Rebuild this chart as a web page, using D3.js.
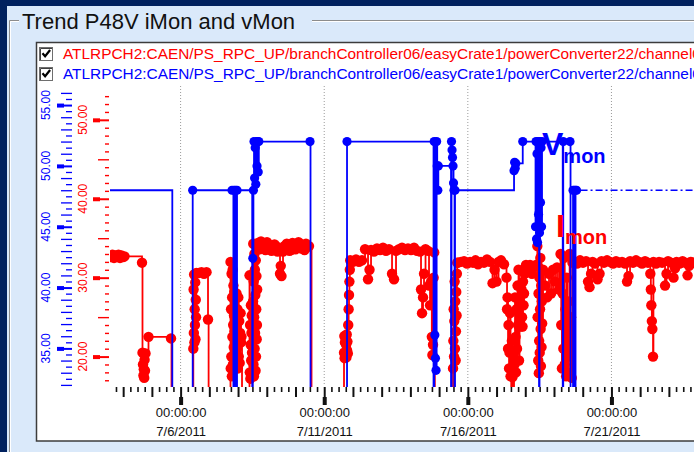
<!DOCTYPE html>
<html>
<head>
<meta charset="utf-8">
<script src="https://cdn.jsdelivr.net/npm/d3@7"></script>
<style>
  html, body { margin: 0; padding: 0; background: #00215e; overflow: hidden; }
  svg { display: block; font-family: "Liberation Sans", Arial, sans-serif; }
</style>
</head>
<body>
<svg id="chart" width="694" height="452"></svg>
<script>
// ---- data ---------------------------------------------------------------
const panelTitle = "Trend P48V iMon and vMon";
const seriesNames = [
  "ATLRPCH2:CAEN/PS_RPC_UP/branchController06/easyCrate1/powerConverter22/channel0",
  "ATLRPCH2:CAEN/PS_RPC_UP/branchController06/easyCrate1/powerConverter22/channel0"
];
const seriesLabels = ["I", "V"];      // big in-plot labels, with "mon" subscript
const vmonTicks = [35, 40, 45, 50, 55];
const imonTicks = [20, 30, 40, 50];
const majorDates = ["2011-07-06", "2011-07-11", "2011-07-16", "2011-07-21"];
const timeSpan = ["2011-07-03 13:00", "2011-07-24 02:00"];

// samples: [day of July 2011 (fractional), value]
const imonSamples = [
  [3.577,32.6],[3.629,32.9],[3.681,32.5],[3.733,32.8],[3.785,32.6],[3.838,32.9],[3.890,32.5],[3.942,32.8],[3.994,32.6],[4.047,32.7],
  [4.656,31.9],[4.673,20.5],[4.691,19.0],[4.705,17.6],[4.719,18.4],[4.733,17.3],[4.746,19.6],[4.760,18.2],[4.778,20.4],[4.882,22.5],
  [5.666,22.3],[5.683,0],
  [6.442,21.0],[6.452,28.5],[6.461,23.0],[6.471,30.4],[6.480,21.8],[6.490,26.0],[6.499,24.0],[6.509,29.4],[6.518,22.2],[6.528,27.2],[6.537,25.0],[6.547,30.6],
  [6.641,30.6],[6.728,30.7],[6.815,30.5],[6.902,30.7],[6.954,24.7],[6.975,0],
  [7.737,32.0],[7.746,18.5],[7.756,26.0],[7.765,20.0],[7.774,30.5],[7.784,17.5],[7.793,27.5],[7.802,22.5],[7.812,31.0],[7.821,19.0],[7.830,24.0],[7.839,29.0],[7.849,21.2],[7.858,25.2],[7.867,28.2],[7.877,23.2],
  [7.946,28.0],[7.962,21.0],[7.978,26.0],[7.993,18.5],[8.009,27.5],[8.025,20.0],[8.041,24.5],[8.057,19.2],[8.072,23.0],[8.088,25.5],[8.104,21.8],[8.120,22.5],[8.138,0],
  [8.399,30.3],[8.409,18.0],[8.418,24.0],[8.428,17.2],[8.438,21.5],[8.448,26.5],[8.457,19.5],[8.467,23.0],[8.477,25.2],[8.486,20.5],
  [8.521,27.0],[8.529,34.3],[8.537,19.0],[8.545,29.5],[8.553,17.5],[8.561,25.0],[8.569,33.0],[8.577,21.0],[8.585,31.0],[8.593,23.0],[8.601,27.8],[8.609,18.2],[8.617,32.2],[8.625,20.0],[8.633,26.0],[8.641,30.2],[8.649,22.2],[8.657,24.0],[8.665,28.5],[8.673,33.8],
  [8.695,34.4],[8.747,33.6],[8.799,34.6],[8.851,33.8],[8.904,34.2],[8.956,33.5],[9.008,34.5],[9.060,33.7],[9.113,34.1],[9.165,33.4],[9.217,33.6],[9.270,34.2],[9.322,34.0],[9.374,33.3],[9.409,33.4],[9.461,30.5],[9.487,31.5],[9.513,30.2],[9.565,33.3],[9.609,34.0],[9.652,33.6],[9.696,34.3],[9.739,33.9],[9.791,33.4],[9.844,33.5],[9.896,34.4],[9.948,34.2],[10.000,33.6],[10.053,33.8],[10.105,34.5],[10.157,34.3],[10.210,33.7],[10.262,34.1],[10.314,33.5],[10.366,34.3],[10.418,33.9],[10.471,34.0],[10.558,0],
  [11.689,20.5],[11.700,22.6],[11.710,19.8],[11.721,21.8],[11.731,20.2],[11.742,22.4],[11.752,20.6],[11.763,21.5],[11.773,19.9],[11.784,22.8],[11.794,20.8],[11.808,21.9],[11.822,20.4],[11.836,24.0],[11.850,26.0],[11.863,27.8],[11.877,29.5],[11.891,31.0],[11.905,32.2],
  [12.003,32.0],[12.107,32.3],[12.212,32.0],[12.316,32.2],[12.421,33.6],[12.525,29.8],[12.577,31.0],[12.630,33.5],[12.734,33.3],[12.838,33.7],[12.943,33.5],[13.047,33.8],[13.152,33.4],[13.256,33.6],[13.361,30.5],[13.430,29.8],[13.500,33.4],[13.604,33.6],[13.709,33.8],[13.813,33.5],[13.918,33.7],[14.022,33.5],[14.127,33.8],[14.231,33.4],[14.336,33.3],[14.370,28.5],[14.405,25.5],[14.440,27.5],[14.475,30.5],[14.527,33.6],[14.614,33.4],[14.649,29.0],[14.684,26.5],[14.719,29.5],[14.746,22.5],[14.767,20.2],[14.788,21.5],[14.809,30.0],[14.830,33.2],[14.851,0],
  [15.485,18.5],[15.496,22.0],[15.507,26.0],[15.519,20.0],[15.530,24.5],[15.541,29.5],[15.552,21.0],[15.563,27.0],[15.575,19.5],[15.586,23.2],[15.597,28.2],[15.608,25.2],[15.619,30.5],[15.631,31.9],
  [15.659,31.9],[15.763,32.0],[15.868,32.1],[15.972,31.8],[16.077,32.0],[16.181,31.9],[16.268,32.2],[16.355,31.7],[16.460,32.0],[16.564,31.9],[16.668,32.3],[16.773,32.0],[16.860,29.3],[16.930,31.0],[16.999,29.5],[17.069,32.0],[17.156,32.2],[17.260,31.7],
  [17.347,30.0],[17.365,26.0],[17.382,27.5],[17.400,21.0],[17.417,24.0],[17.435,18.5],[17.452,20.5],[17.470,25.5],[17.487,17.5],[17.511,0],[17.533,22.0],[17.556,17.4],[17.591,0],[17.608,20.5],[17.626,19.0],[17.643,27.5],[17.661,22.5],[17.678,18.0],[17.696,26.0],[17.713,21.0],[17.730,29.0],[17.748,24.0],[17.765,31.0],[17.783,19.5],[17.800,27.0],[17.818,24.5],[17.835,26.5],[17.853,23.8],[17.870,28.5],[17.888,25.0],[17.905,23.8],[17.922,29.5],[17.939,26.5],[17.957,28.0],[17.974,30.5],
  [18.026,31.6],[18.096,30.8],[18.166,31.6],[18.235,30.5],[18.305,31.3],[18.375,31.6],
  [18.420,34.0],[18.430,25.0],[18.441,31.5],[18.451,19.5],[18.462,28.0],[18.472,17.9],[18.483,22.0],[18.493,30.0],[18.503,20.5],[18.514,26.0],[18.524,32.5],[18.535,23.5],[18.545,18.8],[18.556,29.0],[18.566,21.2],[18.577,27.0],[18.587,24.2],
  [18.618,31.0],[18.688,29.0],[18.758,27.5],[18.827,30.5],[18.897,28.0],[18.967,31.0],[19.036,29.5],[19.106,31.3],[19.175,28.5],
  [19.228,33.0],[19.252,24.0],[19.276,18.5],[19.301,28.0],[19.325,21.0],[19.350,32.5],[19.374,19.0],[19.398,26.0],[19.423,17.5],[19.447,30.0],[19.471,22.0],[19.496,18.0],[19.520,27.0],[19.545,33.0],[19.569,20.0],[19.593,25.0],[19.618,17.3],[19.642,31.9],
  [19.698,32.0],[19.802,31.8],[19.907,32.2],[20.011,31.9],[20.116,32.1],[20.185,29.5],[20.237,28.8],[20.290,30.5],[20.342,32.0],[20.429,31.8],[20.516,29.8],[20.586,30.5],[20.655,32.1],[20.742,31.9],[20.847,32.2],[20.951,32.0],[21.056,31.8],[21.160,32.1],[21.265,31.9],[21.369,32.0],[21.474,31.8],[21.543,29.5],[21.595,30.2],[21.648,32.1],[21.752,31.9],[21.856,32.2],[21.961,32.0],[22.065,31.8],[22.170,32.1],[22.274,31.9],[22.354,30.5],[22.372,28.5],[22.389,26.5],[22.407,24.5],[22.424,23.5],[22.448,20.0],[22.462,32.0],[22.553,31.8],[22.657,32.0],[22.762,31.9],[22.866,29.0],[22.918,30.5],[22.971,32.1],[23.075,31.9],[23.162,30.0],[23.214,31.2],[23.267,32.0],[23.371,31.8],[23.476,32.1],[23.563,31.9],[23.650,30.3],[23.702,31.5],[23.754,32.0],[23.841,31.9],[23.981,32.0]
];

const vmonSamples = [
  [3.194,48],[5.711,0],[6.421,48],[7.790,48],[7.838,0],[7.859,48],[7.887,0],[7.911,48],[7.939,0],[7.964,48],
  [8.493,0],[8.514,42.4],[8.535,48],[8.556,52],[8.577,49],[8.597,51.5],[8.618,48.5],[8.639,52],[8.660,50],[8.681,52],[8.702,49.5],[8.723,52],
  [10.506,52],[10.523,0],[11.794,52],[14.806,0],[14.830,52],[14.851,36.1],[14.872,34.2],[14.893,33.2],[14.914,52],[14.934,50],[14.955,48],[14.973,50],
  [15.415,0],[15.432,52],[15.450,51.3],[15.467,50.7],[15.485,50],[15.502,48.6],[15.519,48],[15.537,0],[15.554,48],
  [17.609,49.6],[17.629,50.3],[17.650,49.8],[17.671,50.2],[17.912,52],
  [18.357,45],[18.375,52],[18.392,44],[18.409,51],[18.427,43.7],[18.444,52],[18.462,46],[18.479,0],[18.496,44.5],[18.514,52],[18.531,47],[18.549,51.5],[18.566,45],[18.583,52],
  [19.304,0],[19.322,52],[19.558,52],[19.576,0],[19.663,48],[19.680,0],[19.705,48],[19.726,0],[19.750,48],[19.785,48]
];

// ---- setup --------------------------------------------------------------
const RED = "#ff0000", BLUE = "#0000ff", INK = "#111111";
const parseStamp = d3.timeParse("%Y-%m-%d %H:%M");
const parseDay = d3.timeParse("%Y-%m-%d");
const julyStart = new Date(2011, 6, 1);
const toDate = day => new Date(julyStart.getTime() + (day - 1) * 864e5);
const imon = imonSamples.map(([d, v]) => ({ t: toDate(d), v }));
const vmon = vmonSamples.map(([d, v]) => ({ t: toDate(d), v }));

const plot = { left: 110, right: 700, top: 86, bottom: 386 };

const x = d3.scaleTime().domain(timeSpan.map(parseStamp)).range([plot.left, plot.right]);
const yV = d3.scaleLinear().domain([32, 56]).range([384.9, 92.9]);
const yI = d3.scaleLinear().domain([16.4, 53.4]).range([385, 93]);

const svg = d3.select("#chart");

// ---- window frame -------------------------------------------------------
svg.append("rect").attr("width", 694).attr("height", 452).attr("fill", "#00215e");
svg.append("rect").attr("x", 7).attr("y", 6).attr("width", 700).attr("height", 460).attr("fill", "#dae9fa");

svg.append("path").attr("d", "M9.5,460V20.5H19M312,20.5H700")
  .attr("fill", "none").attr("stroke", "#8c8c8c");
svg.append("path").attr("d", "M10.5,460V21.5H19M312,21.5H700")
  .attr("fill", "none").attr("stroke", "#ffffff");
svg.append("text").attr("x", 22).attr("y", 28.5).attr("font-size", 22)
  .attr("fill", INK).text(panelTitle);

// chart box
svg.append("rect").attr("x", 36.5).attr("y", 42.5).attr("width", 680).attr("height", 398.5)
  .attr("fill", "#ffffff").attr("stroke", "#3c3c3c").attr("stroke-width", 1.5);

// ---- legend rows --------------------------------------------------------
const legendColors = [RED, BLUE];
const legend = svg.append("g").selectAll("g").data(seriesNames).join("g")
  .attr("transform", (d, i) => `translate(0,${i * 20})`);
legend.append("rect").attr("x", 39.5).attr("y", 47.5).attr("width", 13).attr("height", 13)
  .attr("fill", "#ffffff").attr("stroke", "#6e6e6e").attr("stroke-width", 1);
legend.append("path").attr("d", "M40.5,60V48.5H52").attr("fill", "none")
  .attr("stroke", "#404040").attr("stroke-width", 1);
legend.append("path").attr("d", "M42.5,53.2l2.6,3l5,-6.2").attr("fill", "none")
  .attr("stroke", "#000").attr("stroke-width", 2.2);
legend.append("text").attr("x", 63).attr("y", 59).attr("font-size", 15.4)
  .attr("fill", (d, i) => legendColors[i]).text(d => d);

// ---- grid ---------------------------------------------------------------
const majors = majorDates.map(parseDay);
svg.append("g").selectAll("line").data(majors).join("line")
  .attr("x1", d => x(d)).attr("x2", d => x(d))
  .attr("y1", plot.top).attr("y2", plot.bottom)
  .attr("stroke", "#9a9a9a").attr("stroke-dasharray", "1,2");

// ---- Vmon axis (blue, outer) --------------------------------------------
const vAxis = d3.axisLeft(yV).tickValues(d3.range(32, 56.01, 0.5)).tickFormat("").tickSizeOuter(0);
const gV = svg.append("g").attr("transform", "translate(72,0)").call(vAxis);
gV.select(".domain").remove();
gV.selectAll(".tick line")
  .attr("stroke", BLUE).attr("stroke-width", d => d % 5 === 0 ? 2 : 1.3)
  .attr("x2", d => d % 5 === 0 ? -9 : (d % 1 === 0 ? -11 : -6));
gV.selectAll(".tick").filter(d => d % 5 === 0)
  .append("rect").attr("x", -15).attr("y", -2).attr("width", 7).attr("height", 4).attr("fill", BLUE);
svg.append("g").selectAll("text").data(vmonTicks).join("text")
  .attr("transform", d => `translate(50,${yV(d)}) rotate(-90)`)
  .attr("text-anchor", "middle").attr("font-size", 12).attr("fill", BLUE)
  .text(d => d.toFixed(2));

// ---- Imon axis (red, inner) ---------------------------------------------
const iAxis = d3.axisLeft(yI).tickValues(d3.range(17, 53.01, 1)).tickFormat("").tickSizeOuter(0);
const gI = svg.append("g").attr("transform", "translate(109,0)").call(iAxis);
gI.select(".domain").remove();
gI.selectAll(".tick line")
  .attr("stroke", RED).attr("stroke-width", d => d % 10 === 0 ? 2 : 1.4)
  .attr("x2", d => d % 10 === 0 ? -9 : (d % 5 === 0 ? -11 : -4));
gI.selectAll(".tick").filter(d => d % 10 === 0)
  .append("rect").attr("x", -16).attr("y", -2).attr("width", 7).attr("height", 4).attr("fill", RED);
svg.append("g").selectAll("text").data(imonTicks).join("text")
  .attr("transform", d => `translate(87,${yI(d)}) rotate(-90)`)
  .attr("text-anchor", "middle").attr("font-size", 12).attr("fill", RED)
  .text(d => d.toFixed(2));

// ---- time axis ----------------------------------------------------------
const sixHours = d3.timeHour.every(6).range(x.domain()[0], x.domain()[1]);
const isMidnight = d => d.getHours() === 0;
const isMajor = d => majors.some(m => +m === +d);
const xAxis = d3.axisBottom(x).tickValues(sixHours).tickFormat("").tickSizeOuter(0);
const gX = svg.append("g").attr("transform", `translate(0,${plot.bottom})`).call(xAxis);
gX.select(".domain").remove();
gX.selectAll(".tick line")
  .attr("stroke", INK).attr("stroke-width", d => isMidnight(d) ? 2 : 1.6)
  .attr("y1", 1).attr("y2", d => isMidnight(d) ? 11 : 6);
const majorTicks = gX.selectAll(".tick").filter(isMajor);
majorTicks.append("rect").attr("x", -2).attr("y", 11).attr("width", 4).attr("height", 8).attr("fill", INK);
majorTicks.append("text").attr("y", 31).attr("text-anchor", "middle")
  .attr("font-size", 13).attr("fill", INK).text(d3.timeFormat("%H:%M:%S"));
majorTicks.append("text").attr("y", 50).attr("text-anchor", "middle")
  .attr("font-size", 13).attr("fill", INK).text(d3.timeFormat("%-m/%-d/%Y"));

// ---- series -------------------------------------------------------------
svg.append("clipPath").attr("id", "plotClip").append("rect")
  .attr("x", plot.left).attr("y", plot.top)
  .attr("width", plot.right - plot.left).attr("height", plot.bottom - plot.top + 1);
const plotG = svg.append("g").attr("clip-path", "url(#plotClip)");

function drawSeries(data, y, color, r) {
  const line = d3.line().x(d => x(d.t)).y(d => y(d.v)).curve(d3.curveStepAfter);
  plotG.append("path").datum(data).attr("d", line)
    .attr("fill", "none").attr("stroke", color).attr("stroke-width", 1.8);
  plotG.append("g").selectAll("circle").data(data).join("circle")
    .attr("cx", d => x(d.t)).attr("cy", d => y(d.v)).attr("r", r).attr("fill", color);
}
drawSeries(imon, yI, RED, 5.2);
drawSeries(vmon, yV, BLUE, 4.6);

// last Vmon value held to the right edge
const lastV = vmon[vmon.length - 1];
plotG.append("line")
  .attr("x1", x(lastV.t) + 4).attr("x2", plot.right)
  .attr("y1", yV(lastV.v)).attr("y2", yV(lastV.v))
  .attr("stroke", BLUE).attr("stroke-width", 1.4).attr("stroke-dasharray", "7,3,2,3");

// ---- in-plot series labels ----------------------------------------------
const labelPos = [{ x: 556, base: 237, sub: 244 }, { x: 542, base: 155, sub: 163 }];
seriesLabels.forEach((s, i) => {
  const p = labelPos[i];
  const t = svg.append("text").attr("x", p.x).attr("y", p.base)
    .attr("fill", legendColors[i]).attr("font-weight", "bold");
  t.append("tspan").attr("font-size", 32).text(s);
  t.append("tspan").attr("font-size", 20).attr("dy", p.sub - p.base).text("mon");
});
</script>
</body>
</html>
